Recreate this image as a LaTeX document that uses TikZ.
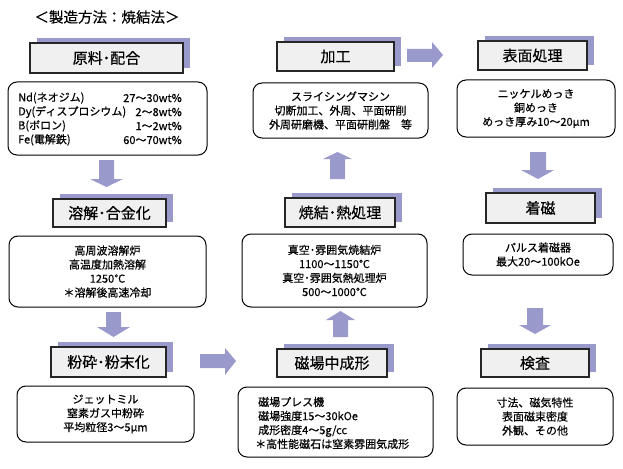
\documentclass[tikz,border=0pt]{standalone}
\usepackage{fontspec}
\setmainfont{Noto Sans CJK JP}[FakeBold=0.4]
\definecolor{arr}{HTML}{9999CC}
\definecolor{hfill}{HTML}{F0F0F0}
\definecolor{edge}{HTML}{262626}
\newcommand\mkhead[6]{%
  \fill[arr] (#2+7,#3-5) rectangle (#4+7,#5-5);
  \node[headbox, minimum width={(#4-#2)*1pt}, minimum height={(#5-#3)*1pt}] (#1) at ({(#2+#4)/2},{(#3+#5)/2}) {#6};}
\newcommand\mkinfo[6]{%
  \node[infobox, minimum width={(#4-#2)*1pt}, minimum height={(#5-#3)*1pt}] (#1) at ({(#2+#4)/2},{(#3+#5)/2}) {#6};}
\begin{document}
\begin{tikzpicture}[x=1pt,y=-1pt,
  headbox/.style={draw=edge, line width=1.1pt, fill=hfill, inner sep=0pt, outer sep=0pt, font=\fontsize{15}{18}\selectfont},
  infobox/.style={draw=black, line width=1pt, fill=white, rounded corners=9pt, inner sep=0pt, outer sep=0pt, align=center, font=\fontsize{11}{14}\selectfont},
  bodytext/.style={inner sep=0pt, font=\fontsize{11}{14}\selectfont},
  blockarrow/.style={fill=arr}]
\useasboundingbox (0,0) rectangle (623,468);
\fill[white] (0,0) rectangle (623,468);

\node[inner sep=0pt, font=\fontsize{14.5}{17}\selectfont] (title) at (107,17) {＜製造方法：焼結法＞};

% header boxes
\mkhead{h1}{30}{43}{183}{73}{原料･配合}
\mkhead{h2}{53}{199}{166}{227}{溶解･合金化}
\mkhead{h3}{51}{347}{166}{377}{粉砕･粉末化}
\mkhead{h4}{277}{42}{394}{71}{加工}
\mkhead{h5}{285}{198}{395}{227}{焼結･熱処理}
\mkhead{h6}{277}{349}{387}{377}{磁場中成形}
\mkhead{h7}{478}{41}{587}{70}{表面処理}
\mkhead{h8}{486}{193}{595}{223}{着磁}
\mkhead{h9}{481}{349}{589}{377}{検査}

% info boxes
\mkinfo{b1}{8}{82}{207}{155}{}
\node[bodytext, anchor=west, align=left] (b1l) at (18,119) {Nd(ネオジム)\\Dy(ディスプロシウム)\\B(ボロン)\\Fe(電解鉄)};
\node[bodytext, anchor=east, align=right] (b1r) at (182,119) {27～30wt\%\\2～8wt\%\\1～2wt\%\\60～70wt\%};
\mkinfo{b2}{9}{236}{206}{307}{高周波溶解炉\\高温度加熱溶解\\1250℃\\＊溶解後高速冷却}
\mkinfo{b3}{17}{386}{194}{442}{ジェットミル\\窒素ガス中粉砕\\平均粒径3～5μm}
\mkinfo{b4}{253}{83}{428}{138}{スライシングマシン\\切断加工、外周、平面研削\\外周研磨機、平面研削盤　等}
\mkinfo{b5}{242}{234}{427}{307}{真空･雰囲気焼結炉\\1100～1150℃\\真空･雰囲気熱処理炉\\500～1000℃}
\mkinfo{b6}{238}{387}{433}{457}{}
\node[bodytext, anchor=west, align=left] (b6t) at (255,423) {\hspace{3pt}磁場プレス機\\\hspace{3pt}磁場強度15～30kOe\\\hspace{3pt}成形密度4～5g/cc\\＊高性能磁石は窒素雰囲気成形};
\mkinfo{b7}{457}{80}{615}{137}{ニッケルめっき\\銅めっき\\めっき厚み10～20μm}
\mkinfo{b8}{463}{234}{613}{275}{パルス着磁器\\最大20～100kOe}
\mkinfo{b9}{457}{388}{613}{445}{寸法、磁気特性\\表面磁束密度\\外観、その他}

% block arrows
\fill[blockarrow] (99,160) -- (114,160) -- (114,179) -- (123,179) -- (106.5,187) -- (90,179) -- (99,179) -- cycle;
\fill[blockarrow] (106,312) -- (121,312) -- (121,327) -- (130,327) -- (113.5,337) -- (97,327) -- (106,327) -- cycle;
\fill[blockarrow] (530,152) -- (546,152) -- (546,170) -- (554,170) -- (538,179) -- (521,170) -- (530,170) -- cycle;
\fill[blockarrow] (527,308) -- (543,308) -- (543,325) -- (551,325) -- (535,334) -- (519,325) -- (527,325) -- cycle;
\fill[blockarrow] (333,337) -- (348,337) -- (348,320) -- (355,320) -- (340.5,311) -- (326,320) -- (333,320) -- cycle;
\fill[blockarrow] (330,179) -- (345,179) -- (345,159) -- (352,159) -- (337.5,152) -- (323,159) -- (330,159) -- cycle;
\fill[blockarrow] (200,354) -- (225,354) -- (225,348) -- (236,361) -- (225,375) -- (225,368) -- (200,368) -- cycle;
\fill[blockarrow] (407,49) -- (432,49) -- (432,42) -- (443,55) -- (432,68) -- (432,62) -- (407,62) -- cycle;
\end{tikzpicture}
\end{document}
